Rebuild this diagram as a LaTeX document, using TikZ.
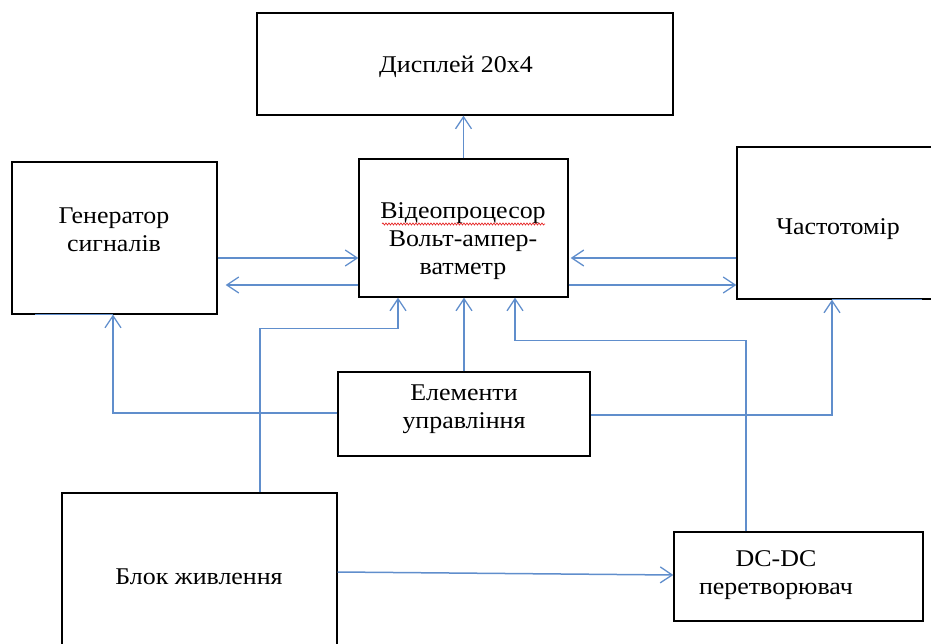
\documentclass[tikz,border=0pt]{standalone}
\usepackage{fontspec}
\setmainfont[FakeStretch=1.08]{Liberation Serif}
\usetikzlibrary{arrows.meta,decorations.pathmorphing}
\definecolor{linkblue}{RGB}{96,142,204}
\definecolor{spellred}{RGB}{230,40,40}
\tikzset{
  box/.style={draw=black, line width=1.3pt, inner sep=0pt, fill=none},
  txt/.style={align=center, inner sep=0pt, font=\fontsize{24}{28}\selectfont},
  link/.style={draw=linkblue, line width=1.5pt},
  arr/.style={link, -{Straight Barb[length=12pt,width=16pt,line width=1.3pt]}}
}
\begin{document}
\begin{tikzpicture}[x=1pt,y=-1pt]
\useasboundingbox (0,0) rectangle (931,644);
% boxes
\node[box, minimum width=416pt, minimum height=102pt] (disp) at (465,64) {};
\node[box, minimum width=205pt, minimum height=152pt] (gen) at (114.5,238) {};
\node[box, minimum width=209pt, minimum height=138pt] (video) at (463.5,228) {};
\node[box, minimum width=224pt, minimum height=152pt] (freq) at (849,223) {};
\node[box, minimum width=252pt, minimum height=84pt] (elem) at (464,414) {};
\node[box, minimum width=275pt, minimum height=167pt] (pow) at (199.5,576.5) {};
\node[box, minimum width=249pt, minimum height=89pt] (dc) at (798.5,576.5) {};
% texts
\node[txt] (dispT) at (456,67) {Дисплей 20х4};
\node[txt] (genT) at (114,230) {Генератор\\сигналів};
\node[txt] (videoT) at (463,241) {Відеопроцесор\\Вольт-ампер-\\ватметр};
\node[txt] (freqT) at (838,229) {Частотомір};
\node[txt] (elemT) at (464,409) {Елементи\\управління};
\node[txt] (powT) at (199,577) {Блок живлення};
\node[txt] (dcT) at (776,575) {DC-DC\\перетворювач};
% spell-check underline
\coordinate (sq1) at (382,224);
\coordinate (sq2) at (545,224);
\draw[spellred, line width=0.7pt, decorate, decoration={snake, amplitude=1pt, segment length=3pt}] (sq1) -- (sq2);
% helper coordinates
\coordinate (yA) at (0,258);
\coordinate (yB) at (0,285);
% connectors
\draw[arr] (video.north) -- (video.north |- disp.south);
\draw[arr] (gen.east |- yA) -- (video.west |- yA);
\draw[arr] (video.west |- yB) -- ([xshift=8pt]gen.east |- yB);
\draw[arr] (freq.west |- yA) -- ([xshift=2pt]video.east |- yA);
\draw[arr] (video.east |- yB) -- (freq.west |- yB);
\draw[arr] ([yshift=1pt]elem.west) -| ([xshift=-1.5pt]gen.south);
\draw[arr] ([yshift=-1pt]elem.east) -| ([xshift=-17pt]freq.south);
\draw[arr] (elem.north) -- (elem.north |- video.south);
\draw[arr] ([xshift=60.5pt]pow.north) -- ++(0,-164) -| ([xshift=-65.5pt]video.south);
\draw[arr] ([xshift=-52.5pt]dc.north) -- ++(0,-191) -| ([xshift=51.5pt]video.south);
\draw[arr] ([yshift=4.5pt]pow.east) -- ([yshift=1.5pt]dc.west);
% blue edge overlays
\draw[link] ([xshift=-79.5pt]gen.south) -- ([xshift=-1.5pt]gen.south);
\draw[link] ([xshift=-17pt]freq.south) -- ([xshift=73pt]freq.south);
\end{tikzpicture}
\end{document}
